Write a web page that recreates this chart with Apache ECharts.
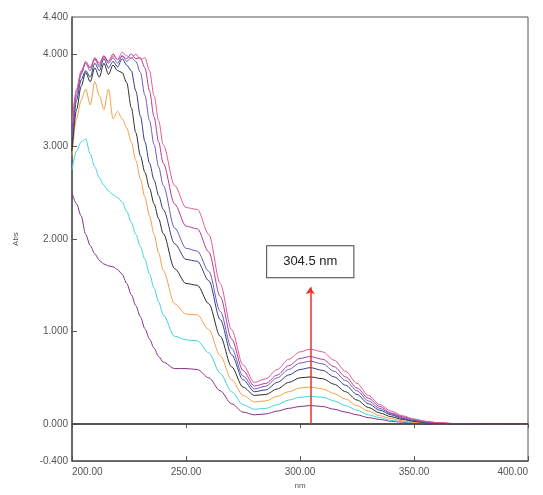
<!DOCTYPE html>
<html lang="en">
<head>
    <meta charset="UTF-8">
    <title>UV spectra</title>
    <style>
        html, body { margin: 0; padding: 0; background: #fff; }
    </style>
</head>
<body>

<div id="main" style="width: 543px;height:495px;"></div>

<script src="https://cdn.jsdelivr.net/npm/echarts@6/dist/echarts.min.js"></script>
<script type="text/javascript">
    // wavelengths (nm), finer steps in the noisy saturated region
    var wavelengths = [200, 202, 204, 206, 208, 210, 212, 214, 216, 218, 220, 222, 224, 226, 228, 230, 232, 234, 236, 238, 240,
        245, 250, 255, 260, 265, 270, 275, 280, 285, 290, 295, 300, 304.5,
        310, 315, 320, 325, 330, 335, 340, 345, 350, 355, 360, 370, 380, 390, 400];

    // absorbance of each spectrum, lowest to highest concentration
    var abs1 = [2.5, 2.38, 2.25, 2.05, 1.93, 1.84, 1.77, 1.73, 1.71, 1.70, 1.67, 1.62, 1.52, 1.40, 1.28, 1.16, 1.03, 0.92, 0.82, 0.73, 0.67,
        0.60, 0.60, 0.59, 0.50, 0.36, 0.22, 0.13, 0.10, 0.11, 0.14, 0.17, 0.19, 0.20,
        0.19, 0.16, 0.13, 0.10, 0.07, 0.05, 0.03, 0.02, 0.01, 0.005, 0.002, 0, 0, 0, 0];
    var abs2 = [2.75, 2.95, 3.05, 3.08, 2.92, 2.78, 2.66, 2.58, 2.52, 2.48, 2.45, 2.40, 2.30, 2.18, 2.05, 1.92, 1.78, 1.62, 1.47, 1.32, 1.18,
        0.95, 0.91, 0.90, 0.77, 0.55, 0.35, 0.21, 0.16, 0.17, 0.21, 0.26, 0.29, 0.30,
        0.29, 0.25, 0.20, 0.15, 0.10, 0.07, 0.04, 0.025, 0.015, 0.008, 0.003, 0, 0, 0, 0];
    var abs3 = [2.9, 3.3, 3.5, 3.62, 3.45, 3.7, 3.55, 3.4, 3.62, 3.3, 3.38, 3.3, 3.2, 3.05, 2.85, 2.65, 2.45, 2.25, 2.05, 1.85, 1.66,
        1.30, 1.19, 1.18, 1.02, 0.74, 0.48, 0.31, 0.24, 0.25, 0.30, 0.35, 0.39, 0.40,
        0.38, 0.33, 0.27, 0.20, 0.14, 0.09, 0.06, 0.035, 0.02, 0.01, 0.004, 0, 0, 0, 0];
    var abs4 = [2.95, 3.4, 3.65, 3.8, 3.7, 3.85, 3.75, 3.9, 3.78, 3.88, 3.82, 3.8, 3.69, 3.42, 3.15, 2.9, 2.72, 2.55, 2.38, 2.22, 2.06,
        1.68, 1.52, 1.50, 1.30, 0.95, 0.62, 0.40, 0.31, 0.32, 0.38, 0.45, 0.50, 0.51,
        0.49, 0.43, 0.35, 0.26, 0.18, 0.12, 0.08, 0.05, 0.03, 0.015, 0.007, 0.001, 0, 0, 0];
    var abs5 = [3.0, 3.5, 3.72, 3.82, 3.75, 3.9, 3.82, 3.95, 3.85, 3.92, 3.86, 3.95, 3.88, 3.82, 3.6, 3.33, 3.05, 2.82, 2.64, 2.47, 2.32,
        1.95, 1.78, 1.76, 1.55, 1.13, 0.75, 0.48, 0.35, 0.37, 0.45, 0.53, 0.59, 0.61,
        0.58, 0.51, 0.42, 0.32, 0.22, 0.15, 0.10, 0.06, 0.035, 0.02, 0.01, 0.002, 0, 0, 0];
    var abs6 = [3.1, 3.55, 3.78, 3.9, 3.82, 3.95, 3.86, 3.98, 3.9, 3.96, 3.9, 3.98, 3.92, 3.96, 3.92, 3.8, 3.55, 3.28, 3.02, 2.78, 2.58,
        2.12, 1.90, 1.87, 1.65, 1.22, 0.82, 0.52, 0.38, 0.41, 0.50, 0.59, 0.66, 0.68,
        0.65, 0.57, 0.47, 0.36, 0.25, 0.17, 0.11, 0.07, 0.04, 0.02, 0.01, 0.002, 0, 0, 0];
    var abs7 = [3.2, 3.6, 3.8, 3.92, 3.85, 3.96, 3.9, 3.98, 3.92, 4.0, 3.94, 3.98, 3.95, 4.0, 3.95, 3.96, 3.85, 3.6, 3.32, 3.05, 2.82,
        2.38, 2.14, 2.11, 1.86, 1.38, 0.92, 0.58, 0.41, 0.44, 0.53, 0.63, 0.71, 0.73,
        0.70, 0.62, 0.51, 0.39, 0.28, 0.19, 0.12, 0.08, 0.05, 0.03, 0.015, 0.003, 0, 0, 0];
    var abs8 = [3.25, 3.62, 3.82, 3.9, 3.86, 3.94, 3.88, 3.96, 3.92, 3.98, 3.94, 4.02, 3.98, 3.95, 4.0, 3.94, 3.96, 3.82, 3.55, 3.28, 3.02,
        2.58, 2.34, 2.32, 2.05, 1.52, 1.02, 0.64, 0.45, 0.49, 0.59, 0.70, 0.78, 0.81,
        0.78, 0.69, 0.57, 0.44, 0.31, 0.21, 0.14, 0.09, 0.055, 0.03, 0.015, 0.004, 0, 0, 0];

    var yTickLabels = [-0.4, 0, 1, 2, 3, 4, 4.4];
    var peakWavelength = 304.5;
    var arrowTop = 1.48;

    var spectra = [abs1, abs2, abs3, abs4, abs5, abs6, abs7, abs8];
    var colors = ['#84308a', '#3fd4d8', '#f0a045', '#2b2b2b', '#2f3d80', '#6a58c4', '#b03a98', '#e2588e'];

    var main = document.getElementById('main');
    var myChart = echarts.init(main);

    var series = spectra.map(function (vals, i) {
        return {
            type: 'line',
            symbol: 'none',
            smooth: 0.3,
            smoothMonotone: 'x',
            lineStyle: { width: 1, color: colors[i] },
            data: vals.map(function (v, k) { return [wavelengths[k], v]; }),
            z: 3
        };
    });

    // zero baseline
    series[0].markLine = {
        silent: true,
        symbol: 'none',
        lineStyle: { color: '#444', width: 1.5, type: 'solid' },
        label: { show: false },
        data: [{ yAxis: 0 }]
    };

    // red arrow at the peak with its box label
    series[7].markLine = {
        silent: true,
        symbol: ['none', 'arrow'],
        symbolSize: 7,
        lineStyle: { color: '#e8302a', width: 1.5, type: 'solid' },
        label: {
            show: true,
            position: 'end',
            distance: 10,
            formatter: peakWavelength + ' nm',
            color: '#222',
            fontFamily: 'Liberation Sans',
            fontSize: 13,
            backgroundColor: '#fff',
            borderColor: '#444',
            borderWidth: 1,
            padding: [9, 16]
        },
        data: [[{ coord: [peakWavelength, 0] }, { coord: [peakWavelength, arrowTop] }]]
    };

    var option = {
        animation: false,
        grid: {
            left: 72, right: 15, top: 17, bottom: 25,
            show: true, borderColor: '#555', borderWidth: 1
        },
        xAxis: [{
            type: 'value',
            min: 200, max: 400, interval: 50,
            name: 'nm',
            nameLocation: 'middle',
            nameGap: 20,
            nameTextStyle: { fontSize: 8, color: '#555' },
            axisLine: { show: true, onZero: false, lineStyle: { color: '#555', width: 1.5 } },
            axisTick: { inside: true, length: 5, lineStyle: { color: '#555' } },
            axisLabel: {
                fontSize: 10, color: '#555', fontFamily: 'Liberation Sans', margin: 6,
                alignMinLabel: 'left', alignMaxLabel: 'right',
                formatter: function (v) { return v.toFixed(2); }
            },
            splitLine: { show: false }
        }, {
            type: 'value',
            position: 'top',
            min: 200, max: 400, interval: 50,
            axisLine: { show: true, lineStyle: { color: '#555', width: 1.5 } },
            axisTick: { inside: true, length: 4, lineStyle: { color: '#555' } },
            axisLabel: { show: false },
            splitLine: { show: false }
        }],
        yAxis: {
            type: 'value',
            min: -0.4, max: 4.4,
            name: 'Abs',
            nameLocation: 'middle',
            nameGap: 52,
            nameTextStyle: { fontSize: 8, color: '#555' },
            axisLine: { show: true, onZero: false, lineStyle: { color: '#555', width: 1.5 } },
            axisTick: { show: true, inside: true, length: 5, customValues: [0, 1, 2, 3, 4], lineStyle: { color: '#555' } },
            axisLabel: {
                fontSize: 10, color: '#555', fontFamily: 'Liberation Sans', margin: 4,
                customValues: yTickLabels,
                formatter: function (v) { return v.toFixed(3); }
            },
            splitLine: { show: false }
        },
        series: series
    };

    myChart.setOption(option);
</script>
</body>
</html>
